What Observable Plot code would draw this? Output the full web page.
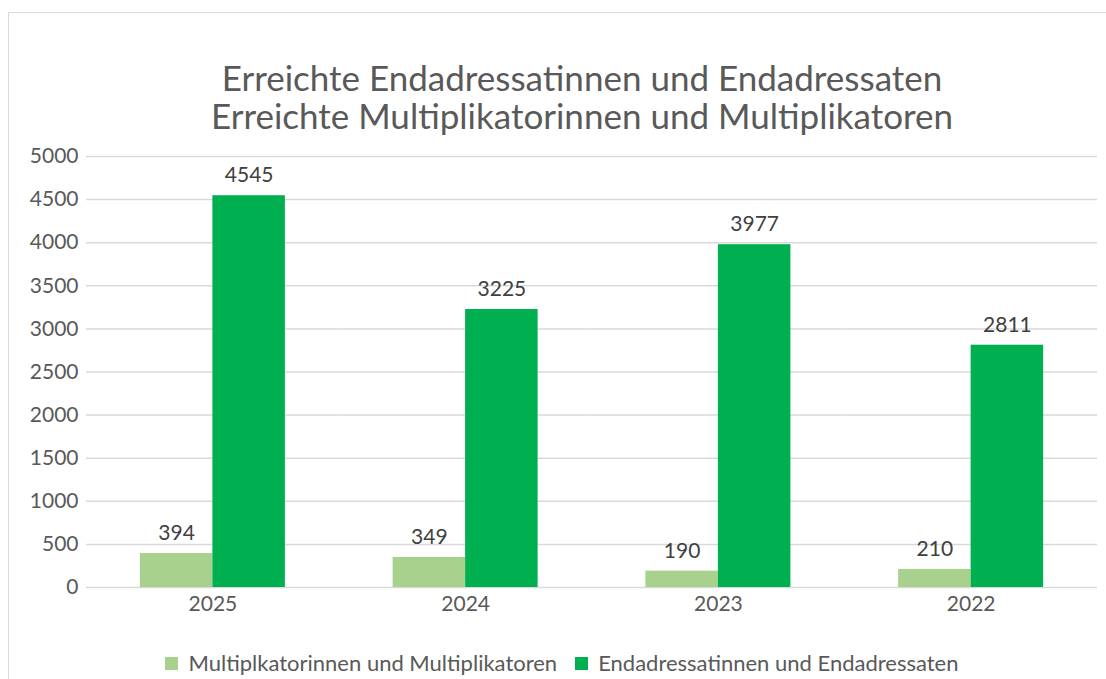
<!DOCTYPE html>
<html>
<head>
<meta charset="utf-8">
<script src="https://cdn.jsdelivr.net/npm/d3@7"></script>
<script src="https://cdn.jsdelivr.net/npm/@observablehq/plot@0.6"></script>
<style>
  html, body { margin: 0; padding: 0; background: #fff; width: 1106px; height: 679px; overflow: hidden; }
  body { position: relative; font-family: Lato, "Open Sans", sans-serif; color: #595959; }
  #frame { position: absolute; left: 8px; top: 12px; width: 1200px; height: 800px; border: 1.5px solid #d9d9d9; box-sizing: border-box; }
  #title { position: absolute; left: 0; width: 1164px; top: 58px; text-align: center; font-size: 35px; line-height: 38px; color: #595959; }
  #chart { position: absolute; left: 0; top: 136px; }
  #legend { position: absolute; left: 0; width: 1124px; top: 650px; display: flex; justify-content: center; gap: 18px; font-size: 22px; line-height: 26px; color: #595959; }
  .item { display: flex; align-items: center; gap: 10px; }
  .sw { width: 13px; height: 13px; display: inline-block; }
</style>
</head>
<body>
<div id="frame"></div>
<div id="title">Erreichte Endadressatinnen und Endadressaten<br>Erreichte Multiplikatorinnen und Multiplikatoren</div>
<div id="chart"></div>
<div id="legend"></div>
<script>
const years = ["2025", "2024", "2023", "2022"];
const seriesNames = ["Multiplkatorinnen und Multiplikatoren", "Endadressatinnen und Endadressaten"];
const multiplikatoren = [394, 349, 190, 210];
const endadressaten = [4545, 3225, 3977, 2811];
const colors = ["#a9d18e", "#00b050"];
const yTicks = [0, 500, 1000, 1500, 2000, 2500, 3000, 3500, 4000, 4500, 5000];

const data = [];
years.forEach((y, i) => {
  data.push({year: y, series: seriesNames[0], value: multiplikatoren[i]});
  data.push({year: y, series: seriesNames[1], value: endadressaten[i]});
});

const chart = Plot.plot({
  width: 1106,
  height: 490,
  marginTop: 20,
  marginBottom: 39,
  marginLeft: 86,
  marginRight: 9,
  style: {fontFamily: "Lato, 'Open Sans', sans-serif", fontSize: "21px", color: "#595959", background: "transparent"},
  fx: {domain: years, paddingInner: 0, paddingOuter: 0, round: false, label: null, tickSize: 0, tickPadding: 9},
  x: {domain: seriesNames, paddingInner: 0, paddingOuter: 0.743, round: false, axis: null},
  y: {domain: [0, 5000], ticks: yTicks, tickFormat: d => String(d), label: null, tickSize: 0, tickPadding: 8},
  color: {domain: seriesNames, range: colors},
  marks: [
    Plot.gridY(yTicks, {stroke: "#d9d9d9", strokeOpacity: 1, strokeWidth: 1.5}),
    Plot.barY(data, {fx: "year", x: "series", y: "value", fill: "series"}),
    Plot.text(data, {fx: "year", x: "series", y: "value", text: d => String(d.value), dy: -20, fill: "#404040", fontSize: 21})
  ]
});
document.getElementById("chart").appendChild(chart);

const legend = document.getElementById("legend");
seriesNames.forEach((s, i) => {
  const item = document.createElement("div");
  item.className = "item";
  const sw = document.createElement("span");
  sw.className = "sw";
  sw.style.background = colors[i];
  const t = document.createElement("span");
  t.textContent = s;
  item.appendChild(sw);
  item.appendChild(t);
  legend.appendChild(item);
});
</script>
</body>
</html>
